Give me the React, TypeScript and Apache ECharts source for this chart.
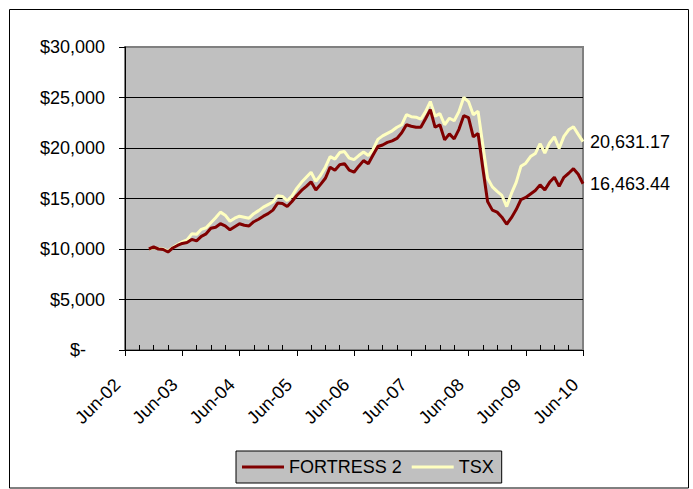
import React, { useEffect, useRef } from "react";
import * as echarts from "echarts";

const monthNames = ["Jan", "Feb", "Mar", "Apr", "May", "Jun", "Jul", "Aug", "Sep", "Oct", "Nov", "Dec"];
// monthly categories Jun-02 .. Jun-10
const startYear = 2002;
const startMonth = 5;
const monthCount = 97;
const categories: string[] = [];
for (let k = 0; k < monthCount; k++) {
  const m = (startMonth + k) % 12;
  const y = startYear + Math.floor((startMonth + k) / 12);
  categories.push(monthNames[m] + "-" + String(y % 100).padStart(2, "0"));
}

// series begin Nov-02
const seriesStartIndex = 5;

const fortress = [
  10000, 10200, 10000, 9950, 9700, 10100, 10350, 10550, 10650, 10950,
  10800, 11250, 11500, 12050, 12150, 12500, 12300, 11900, 12200, 12500,
  12350, 12280, 12700, 12950, 13250, 13500, 13850, 14550, 14500, 14200,
  14700, 15300, 15800, 16200, 16650, 15850, 16400, 17000, 18100, 17800,
  18350, 18450, 17800, 17600, 18200, 18750, 18450, 19300, 20150, 20300,
  20550, 20700, 20950, 21500, 22300, 22150, 22050, 22050, 22900, 23800,
  22050, 22300, 20800, 21400, 20900, 21850, 23200, 23000, 21100, 21450,
  18000, 14700, 13850, 13650, 13150, 12450, 13100, 13900, 14900, 15100,
  15450, 15800, 16350, 15850, 16600, 17100, 16200, 17100, 17500, 17950,
  17400, 16463.44,
];

const tsx = [
  10000, 10100, 10050, 10000, 9800, 10150, 10450, 10700, 10900, 11500,
  11450, 11950, 12100, 12600, 13100, 13650, 13350, 12750, 13050, 13250,
  13150, 13050, 13500, 13800, 14150, 14400, 14650, 15280, 15200, 14800,
  15250, 16000, 16600, 17100, 17600, 16700, 17300, 18100, 19150, 18900,
  19550, 19650, 19000, 18850, 19250, 19600, 19250, 19850, 20850, 21200,
  21450, 21700, 22050, 22300, 23300, 23100, 23050, 22850, 23600, 24600,
  23150, 23400, 22300, 22950, 22700, 23600, 25000, 24600, 23300, 23650,
  20300, 17000, 16150, 15700, 15300, 14200, 15500, 16600, 18200, 18500,
  19150, 19450, 20430, 19500, 20500, 21100, 19950, 21150, 21800, 22100,
  21350, 20631.17,
];

const seriesNames = ["FORTRESS 2", "TSX"];
const yMin = 0;
const yMax = 30000;
const yInterval = 5000;

const FONT = "'Liberation Sans', Arial, sans-serif";

function pad(values: number[]): (number | null)[] {
  const out: (number | null)[] = [];
  for (let k = 0; k < seriesStartIndex; k++) out.push(null);
  return out.concat(values);
}

function fmtEnd(v: number): string {
  return v.toLocaleString("en-US", { minimumFractionDigits: 2, maximumFractionDigits: 2 });
}

export default function App() {
  const ref = useRef<HTMLDivElement>(null);
  useEffect(() => {
    if (!ref.current) return;
    const chart = echarts.init(ref.current, undefined, { renderer: "svg" });
    chart.setOption({
      animation: false,
      backgroundColor: "#ffffff",
      textStyle: { fontFamily: FONT },
      grid: {
        left: 125,
        right: 110,
        top: 47,
        bottom: 139,
        show: true,
        backgroundColor: "#C0C0C0",
        borderColor: "#808080",
        borderWidth: 2,
      },
      legend: {
        data: seriesNames,
        left: 236,
        top: 451,
        padding: [7, 8, 7, 6],
        itemGap: 10,
        itemWidth: 42,
        itemHeight: 3,
        icon: "rect",
        backgroundColor: "#C0C0C0",
        borderColor: "#000000",
        borderWidth: 1,
        textStyle: { fontFamily: FONT, fontSize: 18, color: "#000" },
      },
      xAxis: [
        {
          type: "category",
          data: categories,
          boundaryGap: false,
          axisLine: { show: true, lineStyle: { color: "#000", width: 1 } },
          axisTick: {
            show: true,
            inside: false,
            length: 6,
            interval: (i: number) => i % 12 === 0,
            lineStyle: { color: "#000" },
          },
          axisLabel: {
            interval: (i: number) => i % 12 === 0,
            rotate: 45,
            margin: 24,
            fontSize: 18,
            fontFamily: FONT,
            color: "#000",
            formatter: (v: string) => "{t|" + v + "}",
            rich: { t: { fontSize: 18, fontFamily: FONT, color: "#000", padding: [0, 11, 0, 0] } },
          },
          splitLine: { show: false },
        },
        {
          type: "category",
          data: categories,
          boundaryGap: false,
          position: "bottom",
          axisLine: { show: false },
          axisTick: {
            show: true,
            inside: true,
            length: 5,
            interval: (i: number) => i % 3 === 0 && i % 12 !== 0,
            lineStyle: { color: "#000" },
          },
          axisLabel: { show: false },
          splitLine: { show: false },
        },
      ],
      yAxis: {
        type: "value",
        min: yMin,
        max: yMax,
        interval: yInterval,
        axisLine: { show: true, lineStyle: { color: "#000", width: 1 } },
        axisTick: { show: true, length: 6, lineStyle: { color: "#000" } },
        axisLabel: {
          margin: 20,
          fontSize: 18,
          fontFamily: FONT,
          color: "#000",
          formatter: (v: number) =>
            v === 0 ? "{z|$-}" : "$" + v.toLocaleString("en-US"),
          rich: { z: { fontSize: 18, fontFamily: FONT, color: "#000", padding: [0, 19, 0, 0] } },
        },
        splitLine: { show: true, showMaxLine: false, lineStyle: { color: "#000", width: 1 } },
      },
      series: [
        {
          name: seriesNames[0],
          type: "line",
          data: pad(fortress),
          symbol: "none",
          lineStyle: { color: "#800000", width: 3 },
          itemStyle: { color: "#800000" },
          endLabel: {
            show: true,
            formatter: (p: any) => fmtEnd(p.value),
            color: "#000",
            fontSize: 18,
            fontFamily: FONT,
            distance: 7,
          },
          z: 3,
        },
        {
          name: seriesNames[1],
          type: "line",
          data: pad(tsx),
          symbol: "none",
          lineStyle: { color: "#FFFFC0", width: 3 },
          itemStyle: { color: "#FFFFC0" },
          endLabel: {
            show: true,
            formatter: (p: any) => fmtEnd(p.value),
            color: "#000",
            fontSize: 18,
            fontFamily: FONT,
            distance: 7,
          },
          z: 2,
        },
      ],
      graphic: [
        {
          type: "rect",
          shape: { x: 9.5, y: 9.5, width: 679, height: 478.5 },
          style: { fill: "none", stroke: "#000", lineWidth: 1 },
          silent: true,
        },
      ],
    });
    return () => chart.dispose();
  }, []);
  return (
    <div
      ref={ref}
      style={{ position: "fixed", left: 0, top: 0, width: 693, height: 489 }}
    />
  );
}
